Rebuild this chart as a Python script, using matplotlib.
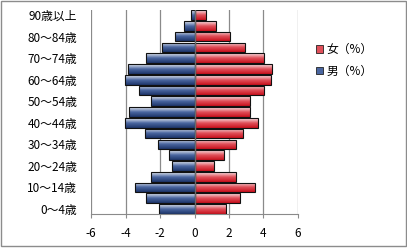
import numpy as np
import matplotlib
matplotlib.use("Agg")
import matplotlib.pyplot as plt
from matplotlib.colors import LinearSegmentedColormap
from matplotlib.patches import Rectangle

plt.rcParams['font.family'] = ['Noto Sans CJK JP', 'DejaVu Sans']

ages = ["0〜4歳", "5〜9歳", "10〜14歳", "15〜19歳", "20〜24歳", "25〜29歳",
        "30〜34歳", "35〜39歳", "40〜44歳", "45〜49歳", "50〜54歳", "55〜59歳",
        "60〜64歳", "65〜69歳", "70〜74歳", "75〜79歳", "80〜84歳", "85〜89歳",
        "90歳以上"]
male = [2.08, 2.83, 3.47, 2.52, 1.31, 1.50, 2.14, 2.89, 4.05, 3.82,
        2.54, 3.22, 4.05, 3.87, 2.81, 1.89, 1.16, 0.64, 0.23]
female = [1.84, 2.66, 3.48, 2.43, 1.13, 1.73, 2.43, 2.83, 3.71, 3.20,
          3.20, 4.06, 4.41, 4.52, 4.04, 2.95, 2.08, 1.26, 0.68]
xticks = [-6, -4, -2, 0, 2, 4, 6]

GRID = "#8a8a8a"
FS = 8.5
cm_m = LinearSegmentedColormap.from_list("m", ["#1c3468", "#4a66a0", "#e4e9f2"])
cm_f = LinearSegmentedColormap.from_list("f", ["#c8101c", "#e0505a", "#fae4e6"])

fig = plt.figure(figsize=(4.07, 2.49), dpi=100)
ax = fig.add_axes([0.224, 0.139, 0.508, 0.822])

y = np.arange(len(ages))
grad = np.linspace(0, 1, 64).reshape(-1, 1)


def gradient_bars(vals, cmap, sign):
    bars = ax.barh(y, [sign * v for v in vals], height=0.9, color="none",
                   edgecolor="#111111", lw=0.8, zorder=3)
    for p in bars.patches:
        x0, y0 = p.get_x(), p.get_y()
        w, h = p.get_width(), p.get_height()
        im = ax.imshow(grad, cmap=cmap, aspect="auto", zorder=2,
                       extent=(x0, x0 + w, y0 + h, y0), origin="upper")
        im.set_clip_path(p)
    return bars


gradient_bars(male, cm_m, -1)
gradient_bars(female, cm_f, 1)

ax.set_xlim(-6, 6)
ax.set_ylim(-0.5, len(ages) - 0.5)
ax.set_xticks(xticks)
ax.set_xticklabels([str(t) for t in xticks], fontsize=FS)
ax.set_yticks(y[::2])
ax.set_yticklabels(ages[::2], fontsize=FS)
ax.tick_params(axis="y", length=0, pad=10)
ax.tick_params(axis="x", length=3, color=GRID, direction="out", pad=6)
for s in ["top", "right", "left"]:
    ax.spines[s].set_visible(False)
ax.spines["bottom"].set_color(GRID)
for t in xticks:
    ax.axvline(t, color=GRID, lw=0.9, zorder=1)
ax.axvline(0, color="#6a6a6a", lw=1.0, zorder=4)

# legend
hf = Rectangle((0, 0), 1, 1, fc="#e0505a", ec="#222222", lw=0.6)
hm = Rectangle((0, 0), 1, 1, fc="#4a66a0", ec="#222222", lw=0.6)
ax.legend([hf, hm], ["女（%）", "男（%）"], loc="upper left",
          bbox_to_anchor=(0.75, 0.87), bbox_transform=fig.transFigure,
          frameon=False, fontsize=FS, handlelength=0.6, handleheight=0.6,
          handletextpad=0.3, labelspacing=0.75)

fig.patches.append(Rectangle((0.003, 0.012), 0.994, 0.984, transform=fig.transFigure,
                             fill=False, ec="#8c8c8c", lw=1.0))

fig.savefig("out.png", dpi=100, facecolor="white")
